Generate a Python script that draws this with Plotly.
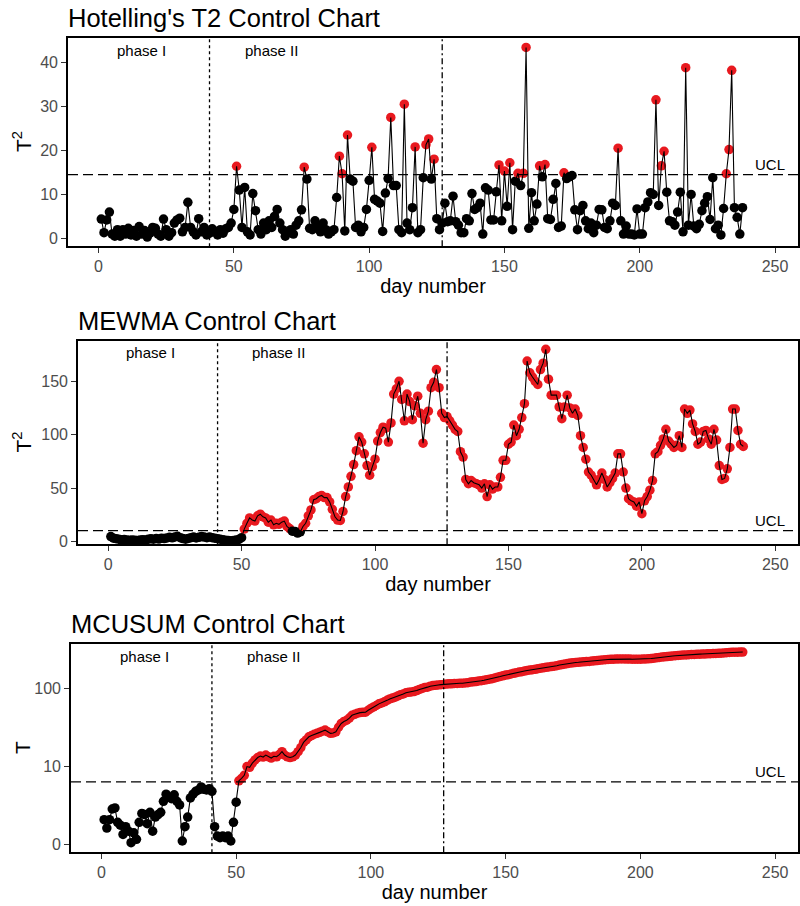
import numpy as np
import plotly.graph_objects as go

# ---------------- data ----------------
T2 = [4.4, 1.3, 4.2, 6.0, 1.0, 0.5, 2.0, 0.5, 2.0, 1.0,
      2.3, 0.8, 1.8, 0.5, 2.7, 1.0, 1.8, 0.3, 1.2, 2.5,
      2.3, 1.0, 0.5, 4.4, 2.0, 0.5, 1.3, 3.5, 4.2, 4.6,
      1.5, 2.5, 8.2, 2.5, 1.5, 0.8, 4.5, 1.5, 2.5, 0.8,
      1.2, 2.2, 1.5, 0.8, 2.0, 1.2, 2.2, 2.5, 3.5, 6.6,
      16.4, 11.0, 2.5, 11.6, 1.5, 0.8, 10.2, 6.3, 2.0, 1.0,
      3.5, 2.0, 4.0, 2.5, 5.0, 6.6, 3.5, 2.0, 0.5, 1.5,
      2.0, 1.0, 3.0, 4.0, 6.5, 16.2, 13.5, 2.3, 2.0, 4.0,
      2.5, 1.5, 3.5, 2.0, 1.0, 1.5, 2.0, 9.3, 18.7, 14.7,
      1.7, 23.5, 13.5, 13.0, 2.5, 3.0, 1.5, 2.5, 6.6, 13.2,
      20.7, 8.9, 8.5, 8.0, 1.6, 10.3, 13.6, 27.5, 12.0, 12.0,
      2.0, 1.3, 30.5, 3.5, 2.0, 7.0, 20.8, 1.3, 2.0, 13.8,
      21.3, 22.6, 13.5, 18.0, 4.5, 2.0, 3.5, 8.0, 3.8, 4.0,
      9.6, 3.8, 3.0, 1.3, 1.3, 4.5, 4.0, 10.2, 6.6, 7.0,
      8.0, 1.0, 11.5, 11.0, 4.2, 4.2, 10.6, 16.7, 4.0, 15.3,
      7.3, 17.2, 2.0, 13.0, 14.8, 12.0, 14.8, 43.4, 2.3, 10.4,
      4.0, 7.8, 16.5, 14.0, 16.8, 4.5, 4.3, 8.9, 12.5, 2.5,
      2.8, 14.9, 13.6, 14.0, 14.3, 6.5, 2.0, 6.3, 7.5, 4.0,
      2.2, 3.5, 1.3, 3.0, 6.6, 6.5, 2.5, 2.2, 4.0, 8.0,
      7.5, 20.5, 4.0, 1.0, 2.8, 1.0, 1.0, 0.8, 6.7, 1.0,
      1.0, 7.0, 8.3, 10.4, 10.0, 31.5, 7.5, 16.5, 19.8, 10.5,
      4.0, 3.8, 3.0, 6.0, 10.5, 1.5, 38.8, 3.0, 10.0, 2.8,
      2.2, 3.2, 6.3, 8.0, 9.5, 4.3, 13.8, 2.2, 3.0, 0.8,
      6.8, 14.7, 20.2, 38.2, 7.0, 4.8, 1.0, 7.0]

MEWMA = [4.5, 3.0, 2.5, 2.0, 1.5, 1.8, 1.2, 1.0, 1.4, 1.0,
         0.8, 1.2, 1.6, 1.3, 2.0, 2.4, 2.0, 2.6, 2.2, 3.0,
         2.6, 3.2, 3.8, 3.3, 4.2, 4.8, 3.5, 2.6, 2.0, 2.8,
         3.5, 4.0, 3.2, 3.8, 4.5, 4.0, 3.5, 4.2, 3.4, 3.0,
         2.5, 2.0, 1.5, 1.0, 0.8, 0.6, 0.8, 1.2, 1.8, 3.5,
         11.5, 17, 22, 20, 19, 24, 25.5, 23, 22, 18,
         20, 15.5, 17, 16, 18, 19, 14, 12, 9.5, 9.3,
         7.8, 9, 14, 17, 24, 29.5, 39, 40, 42, 43,
         41, 41, 37, 30, 23, 20, 19.6, 28, 42, 51,
         61, 72, 85, 98, 93, 82, 71, 62, 70, 77,
         94, 102, 107, 106, 93, 111, 138, 143, 150, 133,
         113, 138, 131, 114, 127, 136, 120, 92, 114, 122,
         144, 149, 161, 144, 120, 116, 117, 113, 109, 105,
         103, 84, 79, 58, 54, 57, 55, 54, 53, 50,
         54, 42, 53, 49, 51, 51, 60, 76, 76, 91,
         93, 109, 99, 105, 116, 129, 169, 158, 154, 150,
         147, 161, 167, 180, 152, 137, 137, 137, 126, 115,
         126, 137, 125, 120, 124, 118, 99, 88, 77, 65,
         62, 58, 53, 58, 64, 58, 51, 55, 59, 64,
         82, 82, 65, 50, 40, 38, 37, 33, 37, 26,
         38, 42, 48, 57, 82, 84, 90, 96, 105, 94,
         91, 88, 90, 99, 88, 124, 120, 123, 110, 103,
         91, 93, 103, 104, 96, 91, 105, 95, 71, 58,
         59, 68, 88, 124, 124, 104, 91, 89]

MCUSUM = [1.6, 1.0, 1.6, 2.5, 2.6, 1.4, 1.2, 0.6, 1.1, 0.8,
          0.1, 0.7, 0.3, 1.4, 2.1, 2.0, 1.3, 2.2, 0.8, 1.8,
          2.0, 2.2, 3.3, 4.2, 3.8, 3.6, 4.1, 3.3, 2.9, 0.2,
          1.1, 1.8, 3.7, 4.2, 4.6, 4.8, 5.3, 4.9, 4.8, 5.0,
          4.6, 1.1, 0.5, 0.4, 0.5, 0.4, 0.5, 0.2, 1.4, 3.2,
          6.4, 6.9, 7.6, 9.9, 9.7, 11.0, 12.1, 13.0, 13.6, 13.2,
          14.0, 13.3, 12.8, 13.5, 13.3, 14.2, 15.5, 14.0, 13.3, 13.0,
          13.3, 14.0, 15.5, 17.5, 20.4, 22.0, 24.1, 25.0, 26.0, 26.7,
          27.5, 28.5, 29.4, 28.0, 26.7, 27.0, 28.0, 32.0, 35.8, 38.0,
          39.4, 42.0, 45.6, 47.0, 48.5, 49.4, 49.8, 50.0, 53.0, 56.0,
          58.4, 61, 64, 65.8, 68, 71, 74, 76, 78, 81,
          84, 86, 89, 90, 91, 92, 95, 98, 101, 104,
          105, 108, 110, 111, 112, 113, 114, 115, 116, 116,
          117, 117, 118, 118, 119, 120, 122, 123, 124, 126,
          127, 129, 131, 133, 135, 138, 141, 144, 147, 150,
          152, 155, 158, 161, 164, 166, 169, 172, 174, 176,
          178, 181, 184, 186, 189, 191, 193, 195, 198, 202,
          205, 208, 211, 214, 216, 218, 219, 221, 222, 224,
          225, 227, 229, 231, 233, 235, 237, 238, 239, 240,
          241, 242, 242, 242, 241, 241, 240, 240, 240, 240,
          241, 242, 243, 245, 247, 250, 253, 256, 258, 260,
          262, 264, 266, 268, 270, 272, 273, 275, 276, 277,
          278, 279, 280, 281, 282, 283, 284, 285, 286, 287,
          289, 291, 293, 295, 296, 296, 297, 297]

UCL_T2 = 14.5
UCL_MEWMA = 10.0
UCL_MCUSUM = 6.2
PHASE_SPLIT = 41
SECOND_MARK = 127
X_TICKS = [0, 50, 100, 150, 200, 250]
Y_TICKS_T2 = [0, 10, 20, 30, 40]
Y_TICKS_MEWMA = [0, 50, 100, 150]
Y_TICKS_MCUSUM = [0, 10, 100]

# ---------------- layout helpers ----------------
W, H = 800, 906
FONT = "Liberation Sans, Arial, sans-serif"
RED = "#E8191F"


def fx(px):
    return px / W


def fy(py):
    return 1 - py / H


def pseudo_log(v):
    return np.arcsinh(np.asarray(v, dtype=float) / 2.0)


panels = [
    dict(title="Hotelling's T2 Control Chart", tx=68, ty=18, box=(68, 798, 38, 248),
         y=np.array(T2), ucl=UCL_T2, yrange=[-1.8, 45.6],
         tv=Y_TICKS_T2, tt=[str(v) for v in Y_TICKS_T2], ytitle="T<sup>2</sup>",
         tf=lambda v: np.asarray(v, dtype=float)),
    dict(title="MEWMA Control Chart", tx=78, ty=323, box=(78, 798, 343, 548),
         y=np.array(MEWMA), ucl=UCL_MEWMA, yrange=[-2.8, 188],
         tv=Y_TICKS_MEWMA, tt=[str(v) for v in Y_TICKS_MEWMA], ytitle="T<sup>2</sup>",
         tf=lambda v: np.asarray(v, dtype=float)),
    dict(title="MCUSUM Control Chart", tx=71, ty=628, box=(71, 798, 648, 858),
         y=np.array(MCUSUM), ucl=UCL_MCUSUM, yrange=[-0.235, 5.94],
         tv=Y_TICKS_MCUSUM, tt=[str(v) for v in Y_TICKS_MCUSUM], ytitle="T",
         tf=pseudo_log),
]

fig = go.Figure()
shapes = []
annotations = []
layout = {}

for i, p in enumerate(panels, start=1):
    sfx = "" if i == 1 else str(i)
    xa, ya = "x" + sfx, "y" + sfx
    vals = p["y"]
    days = np.arange(1, len(vals) + 1)
    yt = p["tf"](vals)
    colors = [RED if (d > PHASE_SPLIT and v > p["ucl"]) else "black" for d, v in zip(days, vals)]
    fig.add_trace(go.Scatter(x=days, y=yt, mode="markers", xaxis=xa, yaxis=ya,
                             marker=dict(size=9.5, color=colors, line=dict(width=0)),
                             showlegend=False, hoverinfo="skip"))
    fig.add_trace(go.Scatter(x=days, y=yt, mode="lines", xaxis=xa, yaxis=ya,
                             line=dict(color="black", width=1.1), showlegend=False,
                             hoverinfo="skip"))
    l, r, t, b = p["box"]
    layout["xaxis" + sfx] = dict(
        domain=[fx(l), fx(r)], anchor=ya, range=[-11.3, 258.5],
        tickvals=X_TICKS, ticks="outside", ticklen=5, tickwidth=1.2, tickcolor="#333",
        tickfont=dict(size=16, color="#4D4D4D", family=FONT),
        showline=True, mirror=True, linecolor="black", linewidth=1.6,
        showgrid=False, zeroline=False,
        title=dict(text="day number", font=dict(size=20, color="black", family=FONT), standoff=2),
    )
    ytv = p["tf"](p["tv"])
    layout["yaxis" + sfx] = dict(
        domain=[fy(b), fy(t)], anchor=xa, range=p["yrange"],
        tickvals=list(ytv), ticktext=p["tt"], ticks="outside", ticklen=5, tickwidth=1.2,
        tickcolor="#333", tickfont=dict(size=16, color="#4D4D4D", family=FONT),
        showline=True, mirror=True, linecolor="black", linewidth=1.6,
        showgrid=False, zeroline=False,
    )
    ucl_t = float(p["tf"]([p["ucl"]])[0])
    shapes.append(dict(type="line", xref=xa + " domain", yref=ya, x0=0, x1=1, y0=ucl_t, y1=ucl_t,
                       line=dict(color="black", width=1.3, dash="10px,5px")))
    shapes.append(dict(type="line", xref=xa, yref=ya + " domain", x0=PHASE_SPLIT, x1=PHASE_SPLIT,
                       y0=0, y1=1, line=dict(color="black", width=1.3, dash="dot")))
    shapes.append(dict(type="line", xref=xa, yref=ya + " domain", x0=SECOND_MARK, x1=SECOND_MARK,
                       y0=0, y1=1, line=dict(color="black", width=1.3, dash="6px,3px,2px,3px")))
    annotations.append(dict(text=p["title"], xref="paper", yref="paper", x=fx(p["tx"] - 2), y=fy(p["ty"]),
                            xanchor="left", yanchor="middle", showarrow=False,
                            font=dict(size=25.5, color="black", family=FONT)))
    annotations.append(dict(text=p["ytitle"], xref="paper", yref="paper", x=fx(22), y=fy((t + b) / 2),
                            xanchor="center", yanchor="middle", textangle=-90, showarrow=False,
                            font=dict(size=21, color="black", family=FONT)))
    for lab, xx in (("phase I", 16), ("phase II", 64)):
        annotations.append(dict(text=lab, xref=xa, yref=ya + " domain", x=xx, y=0.94,
                                xanchor="center", yanchor="middle", showarrow=False,
                                font=dict(size=15, color="black", family=FONT)))
    annotations.append(dict(text="UCL", xref=xa, yref=ya, x=248, y=ucl_t, xanchor="center",
                            yanchor="bottom", yshift=0, showarrow=False,
                            font=dict(size=15, color="black", family=FONT)))

fig.update_layout(
    width=W, height=H, margin=dict(l=0, r=0, t=0, b=0),
    paper_bgcolor="white", plot_bgcolor="white",
    shapes=shapes, annotations=annotations, font=dict(family=FONT),
    **layout,
)

fig.write_html("out.html")
